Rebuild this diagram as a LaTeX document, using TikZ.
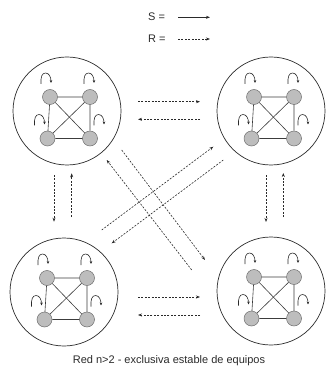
\documentclass[tikz,border=0pt]{standalone}
\usepackage{fontspec}
\setmainfont{Liberation Sans}
\usetikzlibrary{arrows.meta,calc}
\definecolor{ink}{HTML}{2A2A2A}
\definecolor{edgegray}{HTML}{3C3C3C}
\definecolor{dotfill}{HTML}{BDBDBD}
\definecolor{dotline}{HTML}{6E6E6E}
\begin{document}
\begin{tikzpicture}[x=1pt,y=-1pt,
  group/.style={circle, draw=ink, line width=0.7pt, minimum size=108pt, inner sep=0pt},
  member/.style={circle, draw=dotline, fill=dotfill, line width=0.5pt, minimum size=15pt, inner sep=0pt},
  link/.style={draw=edgegray, line width=0.6pt},
  rmsg/.style={draw=ink, line width=0.6pt, dash pattern=on 2pt off 1.4pt, -{Stealth[length=4pt,width=3pt]}},
  smsg/.style={draw=ink, line width=0.6pt, -{Stealth[length=4pt,width=3pt]}},
  lbl/.style={font=\fontsize{11}{13}\selectfont, inner sep=0pt, text=ink},
  selfloop/.pic={\draw[draw=ink, line width=0.6pt, -{Stealth[length=3pt,width=2.6pt]}]
      (0,0) .. controls (-0.5,-7) and (1,-11) .. (4.5,-11) .. controls (8,-11) and (10,-7) .. (10,-1);}
]
\useasboundingbox (0,0) rectangle (325,371);

% one team: a ring with four members, all linked, each with a self loop
\newcommand\drawteam[2]{%
  \node[group] (#1) at (#2) {};
  \node[member] (#1a) at ($(#2)+(-17,-14)$) {};
  \node[member] (#1b) at ($(#2)+(23,-14)$) {};
  \node[member] (#1c) at ($(#2)+(-19.5,27.5)$) {};
  \node[member] (#1d) at ($(#2)+(23,27.5)$) {};
  \draw[link] (#1a) -- (#1b) (#1b) -- (#1d) (#1d) -- (#1c) (#1c) -- (#1a)
              (#1a) -- (#1d) (#1b) -- (#1c);
  \pic at ($(#1a)+(-9,-13)$) {selfloop};
  \pic at ($(#1b)+(-6,-13)$) {selfloop};
  \pic at ($(#1c)+(-13,-13)$) {selfloop};
  \pic at ($(#1d)+(4,-13)$) {selfloop};
}

\drawteam{tl}{67,111}
\drawteam{tr}{271,111}
\drawteam{bl}{64,292}
\drawteam{br}{271,291}

% legend
\node[lbl, anchor=west] (slbl) at (148,17) {S =};
\node[lbl, anchor=west] (rlbl) at (148,39) {R =};
\coordinate (s0) at (178,17.3);
\coordinate (s1) at (210,17.3);
\coordinate (r0) at (178,39);
\coordinate (r1) at (210,39);
\draw[smsg] (s0) -- (s1);
\draw[rmsg] (r0) -- (r1);

% endpoints of the messages between teams
\coordinate (h1a) at (138,101.7); \coordinate (h1b) at (200,101.7);
\coordinate (h2a) at (200,119.3); \coordinate (h2b) at (138,119.3);
\coordinate (h3a) at (138,297);   \coordinate (h3b) at (200,297);
\coordinate (h4a) at (200,315);   \coordinate (h4b) at (138,315);
\coordinate (v1a) at (54,175);    \coordinate (v1b) at (54,221.7);
\coordinate (v2a) at (71.7,216.7);\coordinate (v2b) at (71.7,173.3);
\coordinate (v3a) at (266,175);   \coordinate (v3b) at (266,222);
\coordinate (v4a) at (283.3,217); \coordinate (v4b) at (283.3,173);
\coordinate (d1a) at (191.7,270); \coordinate (d1b) at (106.7,160);
\coordinate (d2a) at (121.7,150); \coordinate (d2b) at (205,260);
\coordinate (d3a) at (101.7,230); \coordinate (d3b) at (213.3,146.7);
\coordinate (d4a) at (223.3,160); \coordinate (d4b) at (111.7,243.3);

\foreach \m in {h1,h2,h3,h4,v1,v2,v3,v4,d1,d2,d3,d4}
  \draw[rmsg] (\m a) -- (\m b);

% caption
\node[lbl] (caption) at (169,361) {Red n>2 - exclusiva estable de equipos};
\end{tikzpicture}
\end{document}
